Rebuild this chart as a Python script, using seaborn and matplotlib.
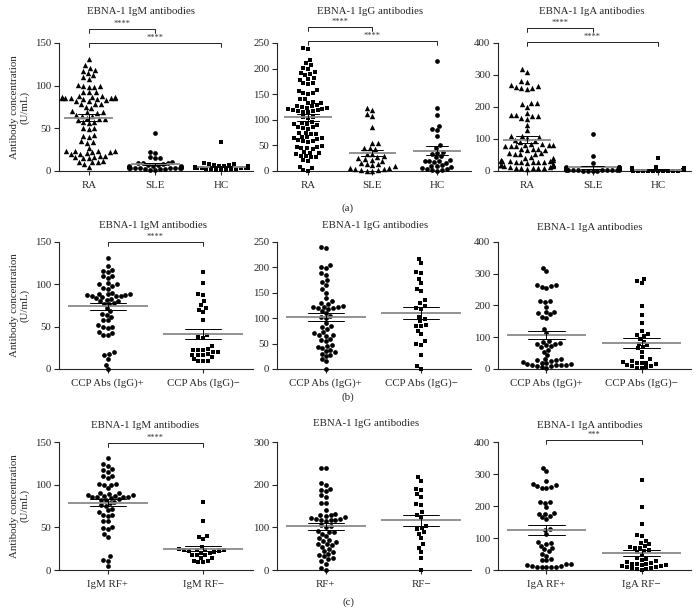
import warnings
warnings.filterwarnings("ignore")
import numpy as np
import pandas as pd
import matplotlib
matplotlib.use("Agg")
import matplotlib.pyplot as plt
import matplotlib.transforms as mtransforms
import seaborn as sns

# ---------------- data ----------------
groups_a = ["RA", "SLE", "HC"]
groups_b = ["CCP Abs (IgG)+", "CCP Abs (IgG)\u2212"]
groups_c_igm = ["IgM RF+", "IgM RF\u2212"]
groups_c_igg = ["RF+", "RF\u2212"]
groups_c_iga = ["IgA RF+", "IgA RF\u2212"]

ra_igm = [131, 124, 121, 118, 117, 115, 112, 110, 108, 101, 100, 100, 99, 99, 93, 92, 92,
          88, 88, 87, 87, 87, 86, 86, 86, 85, 85, 84, 84, 83, 82, 82, 79, 78, 78, 75, 74,
          70, 69, 69, 68, 66, 65, 65, 62, 61, 61, 60, 57, 57, 56,
          50, 50, 49, 42, 41, 40, 35, 34, 33, 27, 24, 23, 23, 23, 22, 22, 21, 20, 20,
          18, 17, 16, 16, 15, 15, 12, 11, 10, 10, 8, 5]
sle_igm = [45, 22, 21, 16, 15, 15, 10, 9, 9, 9, 8, 7, 7, 6, 6, 6, 5, 5, 5, 5, 4, 4, 4, 4,
           3, 3, 3, 3, 2, 2, 2, 1, 1]
hc_igm = [34, 9, 8, 8, 7, 7, 6, 6, 6, 5, 5, 5, 5, 5, 4, 4, 4, 4, 4, 4, 3, 3, 3, 3, 3,
          2, 2, 2, 2, 1, 1, 1]

ra_igg = [241, 239, 217, 210, 207, 202, 200, 194, 192, 190, 188, 181, 180, 178, 172, 171, 170,
          158, 156, 153, 152, 151, 141, 140, 135, 133, 132,
          128, 127, 126, 125, 124, 123, 122, 121, 120, 119, 118, 117, 116, 115,
          106, 105, 103, 95, 93, 92, 91, 90, 86, 85, 84, 83,
          75, 74, 73, 72, 67, 66, 65, 64, 63, 60, 59, 58, 57,
          48, 47, 46, 45, 44, 43, 37, 36, 35, 34, 30, 29, 28, 27, 22, 20, 8, 6, 1, 0]
sle_igg = [123, 119, 112, 107, 85, 55, 54, 45, 44, 42, 34, 33, 30, 27, 25, 24, 22, 20, 16, 14,
           13, 11, 9, 6, 5, 4, 3, 2, 1, 0, 0]
hc_igg = [214, 123, 110, 88, 82, 80, 68, 50, 45, 38, 36, 33, 30, 27, 22, 20, 20, 19, 18, 15,
          12, 10, 10, 8, 6, 4, 3, 2, 1, 0]

ra_iga = [318, 310, 282, 278, 270, 266, 263, 260, 258, 257,
          214, 211, 208, 200, 182, 176, 175, 173, 172, 166, 164, 145, 128,
          110, 108, 106, 104, 96, 94, 92, 84, 83, 82, 81, 80, 79, 78, 78,
          70, 69, 68, 67, 66, 56, 55, 54, 53, 52, 43, 42, 41,
          34, 33, 32, 31, 30, 30, 29, 29, 28, 28, 27, 26,
          21, 20, 20, 19, 18, 18, 17, 16, 12, 11, 10, 10, 9, 9, 8, 7]
sle_iga = [117, 48, 25, 13, 12, 11, 10, 10, 9, 9, 8, 8, 7, 7, 6, 6, 5, 5, 5, 4, 4, 4,
           3, 3, 3, 2, 2, 2, 1, 1, 1, 0]
hc_iga = [40, 13, 10, 8, 7, 6, 5, 5, 4, 4, 4, 3, 3, 3, 3, 2, 2, 2, 2, 2, 1, 1, 1, 1, 1,
          0, 0, 0, 0, 0]

ccp_pos_igm = [131, 122, 117, 116, 115, 110, 110, 108, 101, 100, 100, 98, 96, 95, 90, 89, 88, 88,
               87, 87, 86, 86, 86, 85, 84, 83, 82, 80, 80, 78, 77, 77, 72, 68, 65, 64, 62, 58,
               58, 52, 50, 50, 48, 44, 42, 40, 40, 20, 18, 16, 12, 5, 0]
ccp_neg_igm = [114, 101, 88, 87, 80, 75, 72, 70, 67, 58, 40, 38, 37, 27, 24, 23, 23, 22, 20,
               20, 18, 17, 17, 16, 14, 12, 10, 10, 9]
ccp_pos_igg = [240, 238, 204, 200, 198, 188, 186, 175, 172, 165, 157, 150, 140, 133, 130, 128,
               125, 123, 122, 122, 121, 120, 118, 115, 110, 105, 102, 100, 90, 85, 82, 78, 73,
               70, 67, 66, 65, 60, 58, 55, 48, 45, 44, 42, 38, 35, 33, 30, 28, 25, 20, 15, 0]
ccp_neg_igg = [216, 208, 190, 188, 178, 170, 157, 154, 135, 130, 125, 120, 118, 103, 98, 94, 87,
               85, 85, 75, 68, 55, 50, 48, 28, 5, 0]
ccp_pos_iga = [318, 308, 265, 265, 262, 258, 256, 215, 213, 210, 196, 180, 178, 175, 172, 165,
               162, 125, 112, 88, 85, 82, 80, 78, 75, 72, 68, 60, 55, 45, 32, 30, 28, 27, 25,
               22, 20, 18, 16, 15, 14, 13, 12, 12, 10, 8, 5, 3]
ccp_neg_iga = [283, 278, 270, 198, 170, 145, 120, 110, 108, 105, 95, 85, 80, 75, 70, 65, 55,
               38, 30, 25, 22, 20, 20, 18, 15, 12, 10, 8, 5, 3, 2]

rf_pos_igm = [131, 124, 122, 118, 117, 115, 110, 110, 108, 101, 101, 100, 100, 96, 90, 90, 89,
              88, 88, 87, 87, 86, 86, 85, 85, 84, 83, 82, 82, 80, 78, 76, 75, 72, 70, 68, 65,
              64, 63, 58, 57, 50, 49, 48, 42, 39, 16, 12, 11, 5]
rf_neg_igm = [80, 58, 40, 39, 36, 27, 25, 24, 24, 23, 23, 22, 22, 21, 20, 20, 18, 17, 17, 14,
              14, 11, 10, 9, 9]
rf_pos_igg = [240, 238, 205, 200, 190, 188, 185, 175, 170, 158, 157, 140, 132, 130, 128, 127,
              125, 122, 120, 120, 118, 118, 117, 115, 105, 102, 100, 92, 90, 88, 85, 80, 75, 70,
              68, 65, 62, 60, 58, 55, 50, 45, 42, 38, 35, 32, 28, 25, 20, 15, 5, 0]
rf_neg_igg = [217, 208, 190, 188, 178, 172, 155, 153, 135, 130, 123, 102, 98, 95, 88, 85, 75,
              60, 52, 42, 28, 0]
rf_pos_iga = [318, 308, 278, 268, 266, 264, 258, 256, 255, 214, 212, 210, 196, 178, 176, 175,
              170, 165, 160, 128, 126, 112, 88, 85, 80, 75, 70, 65, 58, 50, 45, 35, 32, 30, 20,
              18, 15, 12, 12, 10, 10, 10, 10, 10]
rf_neg_iga = [282, 198, 143, 110, 105, 90, 85, 80, 75, 72, 70, 68, 62, 60, 55, 48, 38, 35, 30,
              28, 25, 22, 20, 20, 18, 15, 15, 12, 12, 10, 8, 5, 5, 3, 2, 0]

titles = ["EBNA-1 IgM antibodies", "EBNA-1 IgG antibodies", "EBNA-1 IgA antibodies"]
ylabel = "Antibody concentration\n(U/mL)"

# ---------------- style ----------------
sns.set_style("ticks")
plt.rcParams["font.family"] = ["Liberation Serif", "DejaVu Serif"]
plt.rcParams["axes.linewidth"] = 0.8

W, H = 698, 615
fig = plt.figure(figsize=(W / 100, H / 100), dpi=100)

def add_ax(x0, x1, ytop, ybot):
    return fig.add_axes([x0 / W, 1 - ybot / H, (x1 - x0) / W, (ybot - ytop) / H])

FS = 7.8

def panel(ax, cats, values, markers, ymax, ystep, xlim, mean_hw, sem_hw, msize=3.4):
    for cat, vals, m in zip(cats, values, markers):
        df = pd.DataFrame({"g": [cat] * len(vals), "v": vals})
        sz = msize * (1.15 if m == "^" else 1.0)
        sns.swarmplot(data=df, x="g", y="v", order=cats, marker=m, color="black",
                      size=sz, linewidth=0, ax=ax, clip_on=False, zorder=3, warn_thresh=1)
    for i, vals in enumerate(values):
        v = np.asarray(vals, float)
        m = v.mean()
        sem = v.std(ddof=1) / np.sqrt(len(v))
        ax.plot([i - mean_hw, i + mean_hw], [m, m], color="#8a8a8a", lw=1.3, zorder=5,
                solid_capstyle="butt")
        ax.plot([i - sem_hw, i + sem_hw], [m + sem, m + sem], color="black", lw=0.7, zorder=5)
        ax.plot([i - sem_hw, i + sem_hw], [m - sem, m - sem], color="black", lw=0.7, zorder=5)
        ax.plot([i, i], [m - sem, m + sem], color="black", lw=0.7, zorder=5)
    ax.set_xlim(*xlim)
    ax.set_ylim(0, ymax)
    ax.set_yticks(np.arange(0, ymax + 1, ystep))
    ax.set_xticks(range(len(cats)))
    ax.set_xticklabels(cats, fontsize=FS)
    ax.tick_params(axis="y", labelsize=FS, length=3.5, width=0.8, pad=2)
    ax.tick_params(axis="x", length=3, width=0.8, pad=4)
    ax.set_xlabel("")
    ax.set_ylabel("")
    sns.despine(ax=ax)

def sig(ax, i0, i1, ypix, text, fs=6):
    tr = mtransforms.blended_transform_factory(ax.transData, fig.transFigure)
    y = 1 - ypix / H
    d = 4 / H
    ax.plot([i0, i0, i1, i1], [y - d, y, y, y - d], color="black", lw=0.6,
            transform=tr, clip_on=False)
    ax.text((i0 + i1) / 2, y + 1.5 / H, text, transform=tr, ha="center", va="bottom",
            fontsize=fs, color="#333333")

cols = [(59, 253), (277, 471), (498, 691)]
rows = [(43, 171), (242, 369), (442, 570)]

# Row (a)
xl3 = [(-0.45, 2.48), (-0.48, 2.53), (-0.44, 2.5)]
mk_a = [["^", "o", "s"], ["s", "^", "o"], ["^", "o", "s"]]
vals_a = [[ra_igm, sle_igm, hc_igm], [ra_igg, sle_igg, hc_igg], [ra_iga, sle_iga, hc_iga]]
ymaxes_a = [(150, 50), (250, 50), (400, 100)]
axes_a = []
for j in range(3):
    ax = add_ax(cols[j][0], cols[j][1], rows[0][0], rows[0][1])
    panel(ax, groups_a, vals_a[j], mk_a[j], ymaxes_a[j][0], ymaxes_a[j][1], xl3[j], 0.37, 0.17)
    axes_a.append(ax)
sig(axes_a[0], 0, 1, 29, "****"); sig(axes_a[0], 0, 2, 43, "****")
sig(axes_a[1], 0, 1, 27, "****"); sig(axes_a[1], 0, 2, 41, "****")
sig(axes_a[2], 0, 1, 28, "****"); sig(axes_a[2], 0, 2, 42, "****")

# Row (b)
xl2 = (-0.51, 1.52)
vals_b = [[ccp_pos_igm, ccp_neg_igm], [ccp_pos_igg, ccp_neg_igg], [ccp_pos_iga, ccp_neg_iga]]
ymaxes_b = [(150, 50), (250, 50), (400, 100)]
axes_b = []
for j in range(3):
    ax = add_ax(cols[j][0], cols[j][1], rows[1][0], rows[1][1])
    panel(ax, groups_b, vals_b[j], ["o", "s"], ymaxes_b[j][0], ymaxes_b[j][1], xl2, 0.42, 0.19)
    axes_b.append(ax)
sig(axes_b[0], 0, 1, 242, "****")

# Row (c)
cats_c = [groups_c_igm, groups_c_igg, groups_c_iga]
vals_c = [[rf_pos_igm, rf_neg_igm], [rf_pos_igg, rf_neg_igg], [rf_pos_iga, rf_neg_iga]]
ymaxes_c = [(150, 50), (300, 100), (400, 100)]
axes_c = []
for j in range(3):
    ax = add_ax(cols[j][0], cols[j][1], rows[2][0], rows[2][1])
    panel(ax, cats_c[j], vals_c[j], ["o", "s"], ymaxes_c[j][0], ymaxes_c[j][1], xl2, 0.42, 0.19)
    axes_c.append(ax)
sig(axes_c[0], 0, 1, 443, "****")
sig(axes_c[2], 0, 1, 440, "***")

# y labels
for ax in (axes_a[0], axes_b[0], axes_c[0]):
    ax.set_ylabel(ylabel, fontsize=FS, labelpad=4, linespacing=1.1)

# titles
title_pos = [[(141, 12), (370, 12), (592, 12)],
             [(153, 226), (375, 226), (590, 227)],
             [(145, 425), (366, 423), (590, 425)]]
for r in range(3):
    for j in range(3):
        x, y = title_pos[r][j]
        fig.text(x / W, 1 - y / H, titles[j], ha="center", va="center", fontsize=FS)

# panel letters
for lab, y in (("(a)", 208), ("(b)", 397), ("(c)", 602)):
    fig.text(348 / W, 1 - y / H, lab, ha="center", va="center", fontsize=FS)

fig.savefig("out.png", dpi=100)
